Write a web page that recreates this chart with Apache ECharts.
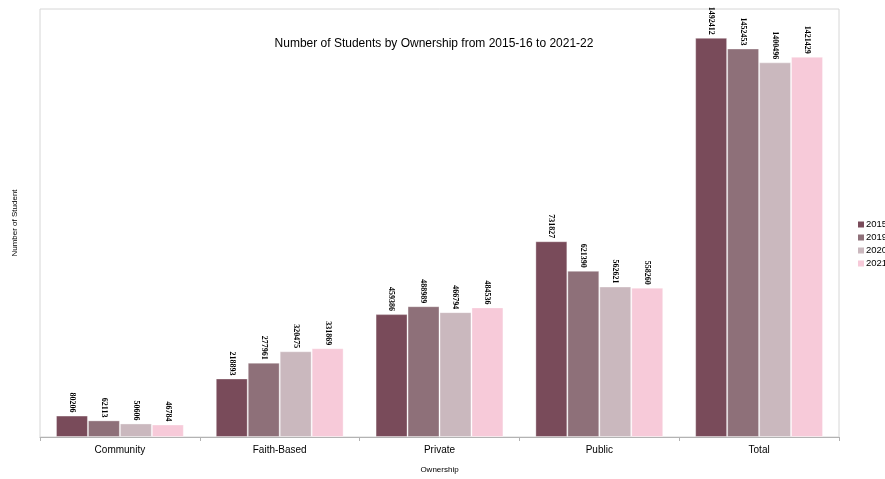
<!DOCTYPE html>
<html>
<head>
<meta charset="utf-8">
<script src="https://cdn.jsdelivr.net/npm/echarts@6/dist/echarts.min.js"></script>
<style>html,body{margin:0;padding:0;background:#fff;}#c{width:885px;height:479px;}</style>
</head>
<body>
<div id="c"></div>
<script>
const categories = ['Community', 'Faith-Based', 'Private', 'Public', 'Total'];
const seriesNames = ['2015', '2019', '2020', '2021'];
const v2015 = [80206, 218893, 459386, 731827, 1492412];
const v2019 = [62113, 277961, 488989, 621390, 1452453];
const v2020 = [50606, 320475, 466794, 562621, 1400496];
const v2021 = [46784, 331869, 484536, 558260, 1421429];
const colors = ['#794b5a', '#8e7079', '#cab8be', '#f7cad9'];

const values = [v2015, v2019, v2020, v2021];
const rich = {t: {fontFamily: 'Liberation Sans', fontSize: 9.5, color: '#000', padding: [0, 0, 0, 2]}};
colors.forEach((c, i) => { rich['s' + i] = {width: 6, height: 6, backgroundColor: c}; });

const chart = echarts.init(document.getElementById('c'), null, {renderer: 'canvas'});
chart.setOption({
  animation: false,
  backgroundColor: '#fff',
  textStyle: {fontFamily: 'Liberation Sans'},
  title: {
    text: 'Number of Students by Ownership from 2015-16 to 2021-22',
    left: 429, top: 33, textAlign: 'center',
    textStyle: {fontFamily: 'Liberation Sans', fontSize: 12, fontWeight: 'normal', color: '#000'}
  },
  legend: {
    orient: 'vertical', left: 852, top: 219, padding: 0,
    itemWidth: 0, itemHeight: 0, itemGap: 2,
    icon: 'rect',
    formatter: name => '{s' + seriesNames.indexOf(name) + '|}{t|' + name + '}',
    textStyle: {fontFamily: 'Liberation Sans', fontSize: 9.5, color: '#000', lineHeight: 11, rich: rich},
    data: seriesNames
  },
  grid: {left: 40, right: 46, top: 9, bottom: 35, show: true, borderColor: '#d6d6d6', borderWidth: 1},
  xAxis: {
    type: 'category', data: categories,
    name: 'Ownership', nameLocation: 'middle', nameGap: 29,
    nameTextStyle: {fontFamily: 'Liberation Sans', fontSize: 8, color: '#000'},
    axisLine: {lineStyle: {color: '#b3b3b3'}},
    axisTick: {show: true, length: 4, lineStyle: {color: '#b3b3b3'}},
    axisLabel: {fontFamily: 'Liberation Sans', fontSize: 10, color: '#000', margin: 8}
  },
  yAxis: {
    type: 'value', min: 0, max: 1600000,
    name: 'Number of Student', nameLocation: 'middle', nameGap: 21, nameRotate: 90,
    nameTextStyle: {fontFamily: 'Liberation Sans', fontSize: 8, color: '#000'},
    axisLine: {show: false}, axisTick: {show: false}, axisLabel: {show: false},
    splitLine: {show: false}
  },
  series: seriesNames.map((n, i) => ({
    name: n, type: 'bar', data: values[i],
    barGap: '0%', barCategoryGap: '20%',
    itemStyle: {color: colors[i], borderColor: 'rgba(255,255,255,0.35)', borderWidth: 1},
    label: {
      show: true, position: 'top', rotate: -90, align: 'right', verticalAlign: 'middle',
      distance: 3,
      fontFamily: 'Liberation Serif', fontWeight: 'bold', fontSize: 8, color: '#000'
    }
  }))
});
</script>
</body>
</html>
